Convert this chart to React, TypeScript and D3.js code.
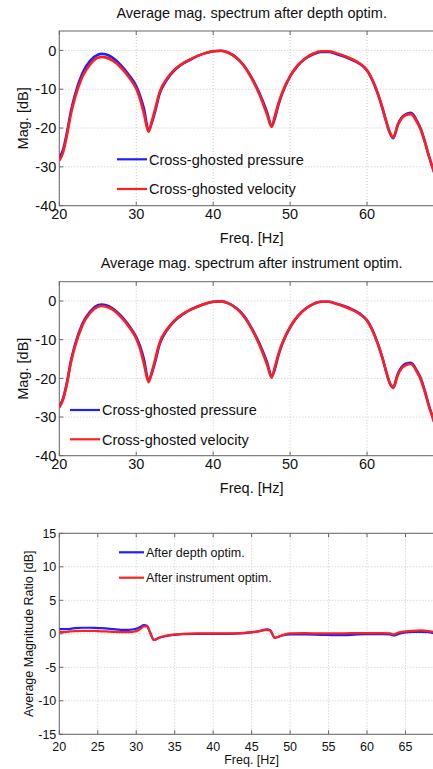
import React, { useEffect, useRef } from 'react';
import * as d3 from 'd3';

// Frequency samples for the spectra (Hz)
const specFreq = [20, 20.5, 21, 21.5, 22, 23, 24, 25, 25.5, 26, 27, 28, 29, 30, 30.5, 31, 31.6, 32, 32.5, 33, 34, 35, 36, 37, 38, 39, 40, 41, 42, 43, 44, 45, 46, 47, 47.6, 48, 48.5, 49, 50, 51, 52, 53, 54, 55, 56, 57, 58, 59, 60, 61, 62, 62.5, 63, 63.4, 64, 64.5, 65, 65.7, 66.5, 67, 67.5, 68, 68.5, 69, 70];

// Panel 1: after depth optim.
const depthPressure = [-27.7, -25.5, -21.1, -15.8, -11.7, -5.9, -2.7, -1.1, -0.9, -1.0, -2.0, -3.8, -6.2, -9.2, -11.7, -15.0, -20.6, -18.8, -15.4, -11.4, -7.5, -5.1, -3.5, -2.4, -1.4, -0.7, -0.2, -0.1, -0.6, -1.8, -3.9, -7.0, -10.9, -15.9, -19.5, -17.6, -13.9, -11.0, -6.7, -3.9, -2.1, -1.0, -0.4, -0.4, -0.9, -1.6, -2.4, -3.4, -5.2, -9.1, -14.9, -18.4, -21.4, -22.6, -19.1, -17.3, -16.5, -16.1, -18.2, -20.3, -23.4, -27.0, -30.1, -33.1, -38.2];
const depthVelocity = [-28.4, -26.2, -21.8, -16.5, -12.5, -6.8, -3.6, -1.9, -1.7, -1.8, -2.7, -4.4, -6.8, -9.9, -12.6, -16.3, -21.0, -18.4, -14.8, -11.0, -7.2, -4.9, -3.4, -2.3, -1.4, -0.7, -0.2, -0.1, -0.6, -1.9, -4.0, -7.2, -11.3, -16.5, -19.7, -17.0, -13.5, -10.7, -6.6, -3.8, -2.0, -0.8, -0.2, -0.2, -0.7, -1.4, -2.2, -3.3, -5.1, -9.0, -14.8, -18.3, -21.3, -22.4, -19.2, -17.5, -16.7, -16.4, -18.5, -20.5, -23.5, -27.0, -30.0, -33.0, -38.0];

// Panel 2: after instrument optim.
const instrPressure = [-27.3, -25.1, -21.0, -15.6, -11.6, -5.9, -2.7, -1.1, -0.9, -1.0, -2.0, -3.8, -6.2, -9.3, -11.7, -15.1, -20.6, -18.8, -15.4, -11.4, -7.5, -5.1, -3.5, -2.3, -1.4, -0.7, -0.2, -0.1, -0.6, -1.8, -3.8, -7.0, -10.9, -15.8, -19.5, -17.7, -13.9, -11.0, -6.8, -3.9, -2.0, -0.8, -0.2, -0.2, -0.7, -1.3, -2.1, -3.2, -5.0, -8.9, -14.7, -18.4, -21.5, -22.3, -18.8, -17.1, -16.2, -16.0, -18.1, -20.1, -23.2, -26.8, -29.9, -33.0, -38.0];
const instrVelocity = [-27.5, -25.4, -21.3, -16.0, -12.0, -6.3, -3.1, -1.5, -1.3, -1.4, -2.3, -4.1, -6.5, -9.7, -12.4, -16.2, -21.0, -18.5, -14.8, -11.0, -7.3, -5.0, -3.4, -2.3, -1.4, -0.7, -0.2, -0.1, -0.6, -1.9, -4.0, -7.2, -11.3, -16.4, -19.8, -17.2, -13.6, -10.8, -6.7, -3.9, -2.0, -0.8, -0.2, -0.2, -0.7, -1.4, -2.2, -3.3, -5.1, -9.0, -14.8, -18.3, -21.4, -22.5, -19.1, -17.4, -16.6, -16.3, -18.4, -20.4, -23.4, -26.9, -29.9, -33.0, -38.0];

// Panel 3: magnitude ratio
const ratioFreq = [20, 21, 22, 23, 24, 25, 26, 27, 28, 29, 30, 30.5, 31, 31.4, 31.8, 32.3, 33, 34, 35, 36, 38, 40, 42, 44, 45, 46, 47, 47.4, 48, 49, 50, 52, 54, 56, 58, 60, 62, 63, 63.5, 64, 65, 66, 67, 68, 69, 70];
const ratioDepth = [0.7, 0.7, 0.85, 0.9, 0.9, 0.85, 0.8, 0.7, 0.6, 0.6, 0.75, 1.0, 1.3, 1.2, 0.2, -0.9, -0.6, -0.3, -0.15, -0.05, 0, 0, 0, 0.1, 0.2, 0.4, 0.65, 0.55, -0.6, -0.25, -0.1, -0.1, -0.15, -0.2, -0.15, -0.05, -0.05, -0.1, -0.25, -0.05, 0.2, 0.3, 0.3, 0.25, 0, -0.1];
const ratioInstr = [0.25, 0.3, 0.4, 0.45, 0.45, 0.4, 0.35, 0.3, 0.25, 0.25, 0.4, 0.7, 1.1, 1.1, 0.2, -0.95, -0.55, -0.25, -0.1, 0, 0.05, 0.05, 0.05, 0.15, 0.25, 0.4, 0.6, 0.5, -0.55, -0.2, 0.05, 0.1, 0.05, 0.05, 0.1, 0.1, 0.1, 0.05, -0.1, 0.15, 0.35, 0.45, 0.5, 0.4, 0.2, 0.1];

const specXTicks = [20, 30, 40, 50, 60, 70];
const specYTicks = [0, -10, -20, -30, -40];
const ratioXTicks = [20, 25, 30, 35, 40, 45, 50, 55, 60, 65, 70];
const ratioYTicks = [15, 10, 5, 0, -5, -10, -15];

const W = 433;
const H = 769;
const FONT = 'Liberation Sans, Arial, sans-serif';

const renderPanel = (svg, cfg) => {
  const { left, right, top, bottom, xDomain, yDomain, xTicks, yTicks, fs } = cfg;
  const x = d3.scaleLinear().domain(xDomain).range([left, right]);
  const y = d3.scaleLinear().domain(yDomain).range([bottom, top]);
  const g = svg.append('g');

  // grid
  g.selectAll('.vg').data(xTicks).enter().append('line')
    .attr('x1', (d) => x(d)).attr('x2', (d) => x(d))
    .attr('y1', top).attr('y2', bottom)
    .attr('stroke', '#c8c8c8').attr('stroke-dasharray', '1,2');
  g.selectAll('.hg').data(yTicks).enter().append('line')
    .attr('x1', left).attr('x2', right)
    .attr('y1', (d) => y(d)).attr('y2', (d) => y(d))
    .attr('stroke', '#c8c8c8').attr('stroke-dasharray', '1,2');

  // frame
  g.append('rect').attr('x', left).attr('y', top)
    .attr('width', right - left).attr('height', bottom - top)
    .attr('fill', 'none').attr('stroke', '#666').attr('stroke-width', 1);

  // ticks (inside)
  g.selectAll('.xt').data(xTicks).enter().append('line')
    .attr('x1', (d) => x(d)).attr('x2', (d) => x(d))
    .attr('y1', bottom).attr('y2', bottom - 4).attr('stroke', '#666');
  g.selectAll('.xt2').data(xTicks).enter().append('line')
    .attr('x1', (d) => x(d)).attr('x2', (d) => x(d))
    .attr('y1', top).attr('y2', top + 4).attr('stroke', '#666');
  g.selectAll('.yt').data(yTicks).enter().append('line')
    .attr('x1', left).attr('x2', left + 4)
    .attr('y1', (d) => y(d)).attr('y2', (d) => y(d)).attr('stroke', '#666');

  // tick labels (the right end of the axes falls outside the figure)
  g.selectAll('.xl').data(xTicks.filter((d) => x(d) + 8 < W)).enter().append('text')
    .attr('x', (d) => x(d)).attr('y', bottom + cfg.xLabelDy)
    .attr('text-anchor', 'middle').attr('font-family', FONT).attr('font-size', fs)
    .attr('fill', '#111').text((d) => d);
  g.selectAll('.yl').data(yTicks).enter().append('text')
    .attr('x', left - 3).attr('y', (d) => y(d) + fs * 0.36)
    .attr('text-anchor', 'end').attr('font-family', FONT).attr('font-size', fs)
    .attr('fill', '#111').text((d) => d);

  // axis titles
  g.append('text').attr('x', (left + right) / 2).attr('y', bottom + cfg.xTitleDy)
    .attr('text-anchor', 'middle').attr('font-family', FONT).attr('font-size', fs)
    .attr('fill', '#111').text(cfg.xTitle);
  g.append('text')
    .attr('transform', `translate(${cfg.yTitleX},${(top + bottom) / 2}) rotate(-90)`)
    .attr('text-anchor', 'middle').attr('font-family', FONT).attr('font-size', fs)
    .attr('fill', '#111').text(cfg.yTitle);
  if (cfg.title) {
    g.append('text').attr('x', (left + right) / 2).attr('y', top - cfg.titleDy)
      .attr('text-anchor', 'middle').attr('font-family', FONT).attr('font-size', fs)
      .attr('fill', '#111').text(cfg.title);
  }

  // clip + lines
  const clipId = `clip-${cfg.id}`;
  svg.append('clipPath').attr('id', clipId).append('rect')
    .attr('x', left).attr('y', top).attr('width', right - left).attr('height', bottom - top);
  const line = d3.line()
    .x((d) => x(d[0])).y((d) => y(d[1]))
    .curve(d3.curveMonotoneX);
  cfg.series.forEach((s) => {
    g.append('path')
      .datum(cfg.freq.map((f, i) => [f, s.values[i]]))
      .attr('d', line)
      .attr('clip-path', `url(#${clipId})`)
      .attr('fill', 'none').attr('stroke', s.color).attr('stroke-width', cfg.lw)
      .attr('stroke-linejoin', 'round');
  });

  // legend (no box)
  cfg.series.forEach((s, i) => {
    const ly = cfg.legend.y + i * cfg.legend.gap;
    g.append('line').attr('x1', cfg.legend.x).attr('x2', cfg.legend.x + cfg.legend.len)
      .attr('y1', ly).attr('y2', ly).attr('stroke', s.color).attr('stroke-width', 2.2);
    g.append('text').attr('x', cfg.legend.x + cfg.legend.len + 2).attr('y', ly + fs * 0.36)
      .attr('font-family', FONT).attr('font-size', fs).attr('fill', '#111').text(s.label);
  });
};

const App = () => {
  const ref = useRef(null);

  useEffect(() => {
    const svg = d3.select(ref.current);
    svg.selectAll('*').remove();

    const L = 59.3;
    const R = 444;

    renderPanel(svg, {
      id: 'p1', left: L, right: R, top: 31, bottom: 205.7,
      xDomain: [20, 70], yDomain: [-40, 5], xTicks: specXTicks, yTicks: specYTicks,
      fs: 14.5, xLabelDy: 13, xTitleDy: 37.5, yTitleX: 28, titleDy: 13.5,
      title: 'Average mag. spectrum after depth optim.', xTitle: 'Freq. [Hz]', yTitle: 'Mag. [dB]',
      freq: specFreq, lw: 2.6,
      series: [
        { values: depthPressure, color: '#1f1fff', label: 'Cross-ghosted pressure' },
        { values: depthVelocity, color: '#ff1f1f', label: 'Cross-ghosted velocity' },
      ],
      legend: { x: 117, y: 159.3, gap: 29.7, len: 30 },
    });

    renderPanel(svg, {
      id: 'p2', left: L, right: R, top: 281.7, bottom: 455.7,
      xDomain: [20, 70], yDomain: [-40, 5], xTicks: specXTicks, yTicks: specYTicks,
      fs: 14.5, xLabelDy: 13, xTitleDy: 37.5, yTitleX: 28, titleDy: 13.5,
      title: 'Average mag. spectrum after instrument optim.', xTitle: 'Freq. [Hz]', yTitle: 'Mag. [dB]',
      freq: specFreq, lw: 2.6,
      series: [
        { values: instrPressure, color: '#1f1fff', label: 'Cross-ghosted pressure' },
        { values: instrVelocity, color: '#ff1f1f', label: 'Cross-ghosted velocity' },
      ],
      legend: { x: 70, y: 410, gap: 29.3, len: 30 },
    });

    renderPanel(svg, {
      id: 'p3', left: L, right: R, top: 533.3, bottom: 734.3,
      xDomain: [20, 70], yDomain: [-15, 15], xTicks: ratioXTicks, yTicks: ratioYTicks,
      fs: 12.5, xLabelDy: 17, xTitleDy: 30, yTitleX: 33, titleDy: 0,
      title: null, xTitle: 'Freq. [Hz]', yTitle: 'Average Magnitude Ratio [dB]',
      freq: ratioFreq, lw: 2.2,
      series: [
        { values: ratioDepth, color: '#1f1fff', label: 'After depth optim.' },
        { values: ratioInstr, color: '#ff1f1f', label: 'After instrument optim.' },
      ],
      legend: { x: 119, y: 552.3, gap: 25.4, len: 25 },
    });
  }, []);

  return (
    <svg
      ref={ref}
      width={W}
      height={H}
      style={{ position: 'absolute', left: 0, top: 0, background: '#fff' }}
    />
  );
};

export default App;
